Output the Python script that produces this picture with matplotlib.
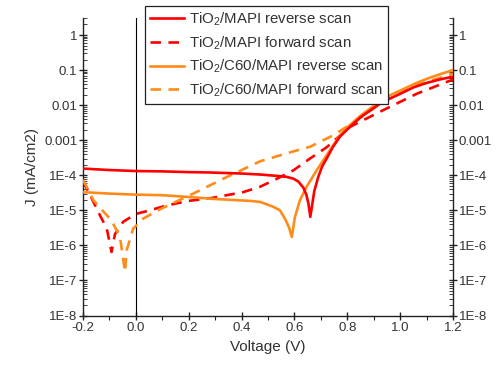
import matplotlib
matplotlib.use("Agg")
import matplotlib.pyplot as plt
from matplotlib.ticker import FixedLocator, FixedFormatter, LogLocator, MultipleLocator, NullFormatter

plt.rcParams['font.family'] = ['Liberation Sans', 'DejaVu Sans']
plt.rcParams['mathtext.default'] = 'regular'

# ---- data ----
v_mapi_rev = [-0.2, -0.1, 0.0, 0.1, 0.2, 0.28, 0.4, 0.47, 0.533, 0.57, 0.596, 0.615, 0.634, 0.645,
              0.653, 0.66, 0.667, 0.675, 0.69, 0.705, 0.722, 0.745, 0.772, 0.81, 0.85, 0.9, 0.936,
              1.0, 1.05, 1.1, 1.15, 1.2]
j_mapi_rev = [1.55e-4, 1.41e-4, 1.32e-4, 1.29e-4, 1.23e-4, 1.20e-4, 1.12e-4, 1.05e-4, 9.6e-5, 9.0e-5,
              8.0e-5, 6.6e-5, 4.4e-5, 2.8e-5, 1.55e-5, 6.5e-6, 1.4e-5, 3.5e-5, 8.9e-5, 1.8e-4,
              3.0e-4, 6.3e-4, 1.26e-3, 2.4e-3, 4.5e-3, 8.3e-3, 1.26e-2, 2.1e-2, 3.2e-2, 4.3e-2,
              5.4e-2, 6.5e-2]

v_mapi_fwd = [-0.2, -0.173, -0.142, -0.11, -0.092, -0.079, -0.048, 0.0, 0.053, 0.117, 0.2, 0.28,
              0.406, 0.47, 0.533, 0.596, 0.659, 0.722, 0.81, 0.936, 1.062, 1.2]
j_mapi_fwd = [6.8e-5, 2.7e-5, 8.9e-6, 3.0e-6, 6.5e-7, 2.1e-6, 4.7e-6, 7.9e-6, 1.0e-5, 1.38e-5,
              1.86e-5, 2.2e-5, 3.3e-5, 4.7e-5, 7.9e-5, 1.38e-4, 3.0e-4, 6.3e-4, 2.4e-3, 7.2e-3,
              2.1e-2, 5.4e-2]

v_c60_rev = [-0.2, -0.1, 0.0, 0.1, 0.2, 0.3, 0.43, 0.47, 0.52, 0.545, 0.564, 0.58, 0.59, 0.602,
             0.621, 0.646, 0.684, 0.734, 0.772, 0.81, 0.85, 0.9, 0.936, 1.0, 1.062, 1.1, 1.15, 1.2]
j_c60_rev = [3.3e-5, 3.0e-5, 2.8e-5, 2.7e-5, 2.4e-5, 2.1e-5, 1.86e-5, 1.74e-5, 1.26e-5, 1.0e-5,
             5.8e-6, 3.2e-6, 1.74e-6, 6.5e-6, 1.95e-5, 4.7e-5, 1.38e-4, 5.1e-4, 1.38e-3, 2.7e-3,
             5.0e-3, 9.5e-3, 1.55e-2, 2.6e-2, 4.3e-2, 5.6e-2, 7.6e-2, 1.0e-1]

v_c60_fwd = [-0.2, -0.161, -0.092, -0.06, -0.041, -0.035, -0.01, 0.028, 0.091, 0.217, 0.344, 0.47,
             0.596, 0.659, 0.747, 0.836, 0.936, 1.062, 1.2]
j_c60_fwd = [7.5e-5, 1.95e-5, 5.1e-6, 1.74e-6, 1.74e-7, 7.2e-7, 3.0e-6, 5.8e-6, 1.07e-5, 3.0e-5,
             8.9e-5, 2.5e-4, 4.8e-4, 6.5e-4, 1.38e-3, 3.7e-3, 1.26e-2, 3.7e-2, 7.9e-2]

labels = ['TiO$_2$/MAPI reverse scan', 'TiO$_2$/MAPI forward scan',
          'TiO$_2$/C60/MAPI reverse scan', 'TiO$_2$/C60/MAPI forward scan']
y_ticks = [1e-8, 1e-7, 1e-6, 1e-5, 1e-4, 1e-3, 1e-2, 1e-1, 1]
y_ticklabels = ['1E-8', '1E-7', '1E-6', '1E-5', '1E-4', '0.001', '0.01', '0.1', '1']
x_ticks = [-0.2, 0.0, 0.2, 0.4, 0.6, 0.8, 1.0, 1.2]
x_ticklabels = ['-0.2', '0.0', '0.2', '0.4', '0.6', '0.8', '1.0', '1.2']

RED = '#FF0000'
ORANGE = '#FF8C1A'

fig = plt.figure(figsize=(4.96, 3.70), dpi=100)
ax = fig.add_axes([83/496, 1-315.5/370, 370/496, (315.5-18)/370])

lw = 1.9
l1, = ax.plot(v_mapi_rev, j_mapi_rev, color=RED, lw=lw, zorder=4)
l2, = ax.plot(v_mapi_fwd, j_mapi_fwd, color=RED, lw=lw, dashes=(4, 2.8), zorder=3)
l3, = ax.plot(v_c60_rev, j_c60_rev, color=ORANGE, lw=lw, zorder=3)
l4, = ax.plot(v_c60_fwd, j_c60_fwd, color=ORANGE, lw=lw, dashes=(4, 2.8), zorder=3)

ax.axvline(0, color='black', lw=0.8, zorder=2)

ax.set_yscale('log')
ax.set_xlim(-0.2, 1.2)
ax.set_ylim(1e-8, 3.06)

ax.yaxis.set_major_locator(FixedLocator(y_ticks))
ax.yaxis.set_major_formatter(FixedFormatter(y_ticklabels))
ax.yaxis.set_minor_locator(LogLocator(base=10, subs=range(2, 10), numticks=30))
ax.yaxis.set_minor_formatter(NullFormatter())
ax.xaxis.set_major_locator(FixedLocator(x_ticks))
ax.xaxis.set_major_formatter(FixedFormatter(x_ticklabels))
ax.xaxis.set_minor_locator(MultipleLocator(0.1))

ax.spines['top'].set_visible(False)
for s in ['left', 'right', 'bottom']:
    ax.spines[s].set_color('#222222')
    ax.spines[s].set_linewidth(1.0)

ax.tick_params(axis='y', which='major', direction='inout', length=6, width=1.0,
               left=True, right=True, labelleft=True, labelright=True,
               labelsize=9.5, colors='#222222', labelcolor='#333333', pad=1)
ax.tick_params(axis='y', which='minor', direction='in', length=3, width=0.6,
               left=True, right=True, colors='#222222')
ax.tick_params(axis='x', which='major', direction='inout', length=6, width=1.0,
               labelsize=9.5, colors='#222222', labelcolor='#333333', pad=2)
ax.tick_params(axis='x', which='minor', direction='out', length=3, width=0.8, colors='#222222')

ax.set_xlabel('Voltage (V)', fontsize=11, color='#333333', labelpad=4)
ax.set_ylabel('J (mA/cm2)', fontsize=11, color='#333333', labelpad=4)

leg = ax.legend([l1, l2, l3, l4], labels, loc='upper left',
                bbox_to_anchor=(145/496, 1-6/370), bbox_transform=fig.transFigure,
                borderaxespad=0, fontsize=10.8, frameon=True, fancybox=False,
                edgecolor='#222222', framealpha=1, handlelength=2.3, handletextpad=0.35,
                labelspacing=0.42, borderpad=0.3)
leg.get_frame().set_linewidth(0.9)
leg.set_zorder(10)
for t in leg.get_texts():
    t.set_color('#333333')

fig.savefig('out.png', dpi=100, facecolor='white')
